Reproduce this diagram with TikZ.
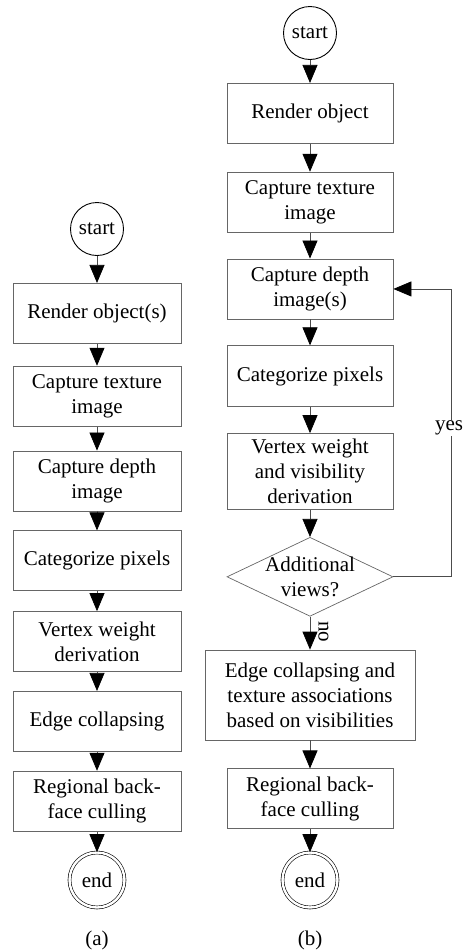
\documentclass[tikz,border=0pt]{standalone}
\usepackage{fontspec}
\setmainfont{Liberation Serif}
\usetikzlibrary{positioning, arrows.meta, shapes.geometric}

\begin{document}
\begin{tikzpicture}[
  x=1pt, y=-1pt,
  every node/.style={font=\fontsize{21}{25}\selectfont},
  stepbox/.style={draw=black!60, line width=0.8pt, minimum width=168pt,
    minimum height=60pt, align=center, inner sep=1pt},
  termnode/.style={draw=black, line width=0.9pt, circle, minimum size=53pt, inner sep=0pt},
  endnode/.style={draw=black, line width=0.6pt, circle, double, double distance=2.4pt,
    minimum size=55pt, inner sep=0pt},
  flow/.style={draw=black!70, line width=0.7pt, -{Triangle[width=15pt,length=18pt,color=black]}}
]
\useasboundingbox (0,0) rectangle (466,951);

% (a)
\node[termnode] (starta) at (97,229) {start};
\node[stepbox, below=27pt of starta] (rena) {Render object(s)};
\node[stepbox, below=22pt of rena] (texa) {Capture texture\\image};
\node[stepbox, below=24pt of texa] (depa) {Capture depth\\image};
\node[stepbox, below=19pt of depa] (cata) {Categorize pixels};
\node[stepbox, below=20pt of cata] (vera) {Vertex weight\\derivation};
\node[stepbox, below=19pt of vera] (edga) {Edge collapsing};
\node[stepbox, below=19pt of edga] (rega) {Regional back-\\face culling};
\node[endnode] (enda) at (97,880) {end};
\node (capa) at (97,940) {(a)};

\foreach \u/\v in {starta/rena, rena/texa, texa/depa, depa/cata,
                   cata/vera, vera/edga, edga/rega, rega/enda}
  \draw[flow] (\u) -- (\v);

% (b)
\node[termnode] (startb) at (310,33) {start};
\node[stepbox, minimum width=166pt, below=23pt of startb] (renb) {Render object};
\node[stepbox, minimum width=166pt, below=28pt of renb] (texb) {Capture texture\\image};
\node[stepbox, minimum width=166pt, below=26pt of texb] (depb) {Capture depth\\image(s)};
\node[stepbox, minimum width=166pt, minimum height=61pt, below=26pt of depb] (catb) {Categorize pixels};
\node[stepbox, minimum width=166pt, minimum height=76pt, below=26pt of catb] (verb)
  {Vertex weight\\and visibility\\derivation};
\node[diamond, draw=black!60, line width=0.7pt, minimum width=166pt, minimum height=79pt,
  inner sep=0pt, below=27pt of verb, label={[align=center]center:Additional\\views?}] (addv) {};
\node[stepbox, minimum width=210pt, minimum height=90pt, below=33pt of addv] (edgb)
  {Edge collapsing and\\texture associations\\based on visibilities};
\node[stepbox, minimum width=166pt, below=28pt of edgb] (regb) {Regional back-\\face culling};
\node[endnode] (endb) at (310,880) {end};
\node (capb) at (310,940) {(b)};

\foreach \u/\v in {startb/renb, renb/texb, texb/depb, depb/catb,
                   catb/verb, verb/addv, edgb/regb, regb/endb}
  \draw[flow] (\u) -- (\v);
\draw[flow] (addv) -- node[pos=0.45, rotate=-90, anchor=south, inner xsep=1pt, inner ysep=8pt] {no} (edgb);

% loop back
\coordinate (loopx) at (451,0);
\draw[flow] (addv.east) -| (loopx |- depb.east) -- (depb.east);
\node[fill=white, inner sep=1pt] (yes) at (449,428) {yes};
\end{tikzpicture}
\end{document}
